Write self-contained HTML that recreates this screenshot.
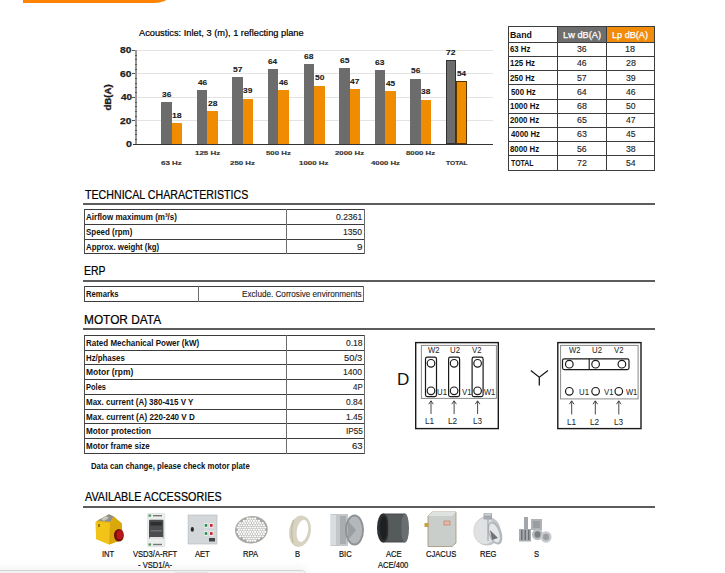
<!DOCTYPE html><html><head><meta charset="utf-8"><style>html,body{margin:0;padding:0;background:#fff;width:725px;height:573px;overflow:hidden;position:relative}span{position:absolute;white-space:nowrap;font-family:"Liberation Sans",sans-serif;transform-origin:0 0}</style></head><body>
<div style="position:absolute;left:23px;top:-20px;width:145px;height:23px;background:#ff8300;border-bottom-right-radius:14px 6px"></div>
<div style="position:absolute;left:136px;top:120.33px;width:357px;height:1px;background:#e3e3e3"></div>
<div style="position:absolute;left:132px;top:120.33px;width:4px;height:1px;background:#555"></div>
<div style="position:absolute;left:136px;top:96.85px;width:357px;height:1px;background:#e3e3e3"></div>
<div style="position:absolute;left:132px;top:96.85px;width:4px;height:1px;background:#555"></div>
<div style="position:absolute;left:136px;top:73.38px;width:357px;height:1px;background:#e3e3e3"></div>
<div style="position:absolute;left:132px;top:73.38px;width:4px;height:1px;background:#555"></div>
<div style="position:absolute;left:136px;top:49.90px;width:357px;height:1px;background:#e3e3e3"></div>
<div style="position:absolute;left:132px;top:49.90px;width:4px;height:1px;background:#555"></div>
<div style="position:absolute;left:135px;top:49.90px;width:1.5px;height:94.90px;background:#9a9a9a"></div>
<div style="position:absolute;left:135px;top:139.11px;width:1.5px;height:1px;background:#555"></div>
<div style="position:absolute;left:135px;top:134.41px;width:1.5px;height:1px;background:#555"></div>
<div style="position:absolute;left:135px;top:129.72px;width:1.5px;height:1px;background:#555"></div>
<div style="position:absolute;left:135px;top:125.02px;width:1.5px;height:1px;background:#555"></div>
<div style="position:absolute;left:135px;top:115.63px;width:1.5px;height:1px;background:#555"></div>
<div style="position:absolute;left:135px;top:110.94px;width:1.5px;height:1px;background:#555"></div>
<div style="position:absolute;left:135px;top:106.24px;width:1.5px;height:1px;background:#555"></div>
<div style="position:absolute;left:135px;top:101.55px;width:1.5px;height:1px;background:#555"></div>
<div style="position:absolute;left:135px;top:92.16px;width:1.5px;height:1px;background:#555"></div>
<div style="position:absolute;left:135px;top:87.46px;width:1.5px;height:1px;background:#555"></div>
<div style="position:absolute;left:135px;top:82.77px;width:1.5px;height:1px;background:#555"></div>
<div style="position:absolute;left:135px;top:78.07px;width:1.5px;height:1px;background:#555"></div>
<div style="position:absolute;left:135px;top:68.68px;width:1.5px;height:1px;background:#555"></div>
<div style="position:absolute;left:135px;top:63.99px;width:1.5px;height:1px;background:#555"></div>
<div style="position:absolute;left:135px;top:59.29px;width:1.5px;height:1px;background:#555"></div>
<div style="position:absolute;left:135px;top:54.59px;width:1.5px;height:1px;background:#555"></div>
<div style="position:absolute;left:133px;top:143.80px;width:360px;height:1.2px;background:#333"></div>
<span style="left:95.0px;top:92.9px;width:27px;text-align:center;font-size:8.4px;line-height:9px;font-weight:bold;color:#1a1a1a;-webkit-text-stroke:0.3px #1a1a1a;transform:rotate(-90deg) scaleX(1.15);transform-origin:13.5px 4.5px">dB(A)</span>
<div style="position:absolute;left:161.20px;top:102.05px;width:10.5px;height:42.25px;background:#6c6c6c;"></div>
<div style="position:absolute;left:171.70px;top:123.17px;width:10.5px;height:21.13px;background:#f08c00;"></div>
<div style="position:absolute;left:196.78px;top:90.31px;width:10.5px;height:53.99px;background:#6c6c6c;"></div>
<div style="position:absolute;left:207.28px;top:111.44px;width:10.5px;height:32.87px;background:#f08c00;"></div>
<div style="position:absolute;left:232.36px;top:77.40px;width:10.5px;height:66.90px;background:#6c6c6c;"></div>
<div style="position:absolute;left:242.86px;top:98.52px;width:10.5px;height:45.78px;background:#f08c00;"></div>
<div style="position:absolute;left:267.94px;top:69.18px;width:10.5px;height:75.12px;background:#6c6c6c;"></div>
<div style="position:absolute;left:278.44px;top:90.31px;width:10.5px;height:53.99px;background:#f08c00;"></div>
<div style="position:absolute;left:303.52px;top:64.49px;width:10.5px;height:79.81px;background:#6c6c6c;"></div>
<div style="position:absolute;left:314.02px;top:85.61px;width:10.5px;height:58.69px;background:#f08c00;"></div>
<div style="position:absolute;left:339.10px;top:68.01px;width:10.5px;height:76.29px;background:#6c6c6c;"></div>
<div style="position:absolute;left:349.60px;top:89.13px;width:10.5px;height:55.17px;background:#f08c00;"></div>
<div style="position:absolute;left:374.68px;top:70.35px;width:10.5px;height:73.95px;background:#6c6c6c;"></div>
<div style="position:absolute;left:385.18px;top:91.48px;width:10.5px;height:52.82px;background:#f08c00;"></div>
<div style="position:absolute;left:410.26px;top:78.57px;width:10.5px;height:65.73px;background:#6c6c6c;"></div>
<div style="position:absolute;left:420.76px;top:99.70px;width:10.5px;height:44.60px;background:#f08c00;"></div>
<div style="position:absolute;left:445.84px;top:59.79px;width:10.5px;height:84.51px;background:#6c6c6c;box-shadow:inset 0 0 0 1px #333;"></div>
<div style="position:absolute;left:456.34px;top:80.92px;width:10.5px;height:63.38px;background:#f08c00;box-shadow:inset 0 0 0 1px #5a3500;"></div>
<div style="position:absolute;left:557.50px;top:26.20px;width:49.00px;height:16.00px;background:#6e6e6e"></div>
<div style="position:absolute;left:606.50px;top:26.20px;width:48.30px;height:16.00px;background:#f08c0a"></div>
<div style="position:absolute;left:508.00px;top:25.70px;width:147.30px;height:1px;background:#3c3c3c"></div>
<div style="position:absolute;left:508.00px;top:41.70px;width:147.30px;height:1px;background:#3c3c3c"></div>
<div style="position:absolute;left:508.00px;top:55.90px;width:147.30px;height:1px;background:#3c3c3c"></div>
<div style="position:absolute;left:508.00px;top:70.10px;width:147.30px;height:1px;background:#3c3c3c"></div>
<div style="position:absolute;left:508.00px;top:84.30px;width:147.30px;height:1px;background:#3c3c3c"></div>
<div style="position:absolute;left:508.00px;top:98.50px;width:147.30px;height:1px;background:#3c3c3c"></div>
<div style="position:absolute;left:508.00px;top:112.70px;width:147.30px;height:1px;background:#3c3c3c"></div>
<div style="position:absolute;left:508.00px;top:126.90px;width:147.30px;height:1px;background:#3c3c3c"></div>
<div style="position:absolute;left:508.00px;top:141.10px;width:147.30px;height:1px;background:#3c3c3c"></div>
<div style="position:absolute;left:508.00px;top:155.30px;width:147.30px;height:1px;background:#3c3c3c"></div>
<div style="position:absolute;left:508.00px;top:169.50px;width:147.30px;height:1px;background:#3c3c3c"></div>
<div style="position:absolute;left:508.00px;top:25.70px;width:1px;height:144.80px;background:#3c3c3c"></div>
<div style="position:absolute;left:557.00px;top:25.70px;width:1px;height:144.80px;background:#3c3c3c"></div>
<div style="position:absolute;left:606.00px;top:25.70px;width:1px;height:144.80px;background:#3c3c3c"></div>
<div style="position:absolute;left:654.30px;top:25.70px;width:1px;height:144.80px;background:#3c3c3c"></div>
<div style="position:absolute;left:83px;top:203.00px;width:572px;height:2px;background:#5c5c5c"></div>
<div style="position:absolute;left:83px;top:280.00px;width:572px;height:2px;background:#5c5c5c"></div>
<div style="position:absolute;left:83px;top:328.00px;width:572px;height:2px;background:#5c5c5c"></div>
<div style="position:absolute;left:83px;top:506.00px;width:572px;height:2px;background:#5c5c5c"></div>
<div style="position:absolute;left:84.00px;top:208.80px;width:281.00px;height:1px;background:#3c3c3c"></div>
<div style="position:absolute;left:84.00px;top:223.80px;width:281.00px;height:1px;background:#3c3c3c"></div>
<div style="position:absolute;left:84.00px;top:238.90px;width:281.00px;height:1px;background:#3c3c3c"></div>
<div style="position:absolute;left:84.00px;top:253.30px;width:281.00px;height:1px;background:#3c3c3c"></div>
<div style="position:absolute;left:84.00px;top:208.80px;width:1px;height:45.50px;background:#4a4a4a"></div>
<div style="position:absolute;left:285.80px;top:208.80px;width:1px;height:45.50px;background:#6e6e6e"></div>
<div style="position:absolute;left:364.00px;top:208.80px;width:1px;height:45.50px;background:#6a6a6a"></div>
<div style="position:absolute;left:84.00px;top:285.90px;width:280.30px;height:1px;background:#3c3c3c"></div>
<div style="position:absolute;left:84.00px;top:300.70px;width:280.30px;height:1px;background:#3c3c3c"></div>
<div style="position:absolute;left:84.00px;top:285.90px;width:1px;height:15.80px;background:#4a4a4a"></div>
<div style="position:absolute;left:198.20px;top:285.90px;width:1px;height:15.80px;background:#6e6e6e"></div>
<div style="position:absolute;left:363.30px;top:285.90px;width:1px;height:15.80px;background:#6a6a6a"></div>
<div style="position:absolute;left:84.00px;top:334.80px;width:280.80px;height:1px;background:#3c3c3c"></div>
<div style="position:absolute;left:84.00px;top:349.58px;width:280.80px;height:1px;background:#3c3c3c"></div>
<div style="position:absolute;left:84.00px;top:364.36px;width:280.80px;height:1px;background:#3c3c3c"></div>
<div style="position:absolute;left:84.00px;top:379.14px;width:280.80px;height:1px;background:#3c3c3c"></div>
<div style="position:absolute;left:84.00px;top:393.92px;width:280.80px;height:1px;background:#3c3c3c"></div>
<div style="position:absolute;left:84.00px;top:408.70px;width:280.80px;height:1px;background:#3c3c3c"></div>
<div style="position:absolute;left:84.00px;top:423.48px;width:280.80px;height:1px;background:#3c3c3c"></div>
<div style="position:absolute;left:84.00px;top:438.26px;width:280.80px;height:1px;background:#3c3c3c"></div>
<div style="position:absolute;left:84.00px;top:453.04px;width:280.80px;height:1px;background:#3c3c3c"></div>
<div style="position:absolute;left:84.00px;top:334.80px;width:1px;height:119.24px;background:#4a4a4a"></div>
<div style="position:absolute;left:286.00px;top:334.80px;width:1px;height:119.24px;background:#6e6e6e"></div>
<div style="position:absolute;left:363.80px;top:334.80px;width:1px;height:119.24px;background:#6a6a6a"></div>
<svg style="position:absolute;left:0;top:0" width="725" height="573" viewBox="0 0 725 573"><rect x="415.7" y="342.6" width="82.6" height="86" fill="none" stroke="#1a1a1a" stroke-width="1.4"/><rect x="421.4" y="345.4" width="75" height="53" fill="none" stroke="#8a8a8a" stroke-width="1"/><rect x="425.5" y="357.2" width="11" height="39.4" rx="1.8" fill="none" stroke="#1a1a1a" stroke-width="1.2"/><circle cx="431" cy="363.3" r="3.8" fill="none" stroke="#1a1a1a" stroke-width="1.2"/><circle cx="431" cy="390.8" r="3.8" fill="none" stroke="#1a1a1a" stroke-width="1.2"/><line x1="431" y1="401" x2="431" y2="414" stroke="#333" stroke-width="0.9"/><path d="M428.7 404.2 L431 400.8 L433.3 404.2" fill="none" stroke="#333" stroke-width="0.9"/><rect x="448.6" y="357.2" width="11" height="39.4" rx="1.8" fill="none" stroke="#1a1a1a" stroke-width="1.2"/><circle cx="454.1" cy="363.3" r="3.8" fill="none" stroke="#1a1a1a" stroke-width="1.2"/><circle cx="454.1" cy="390.8" r="3.8" fill="none" stroke="#1a1a1a" stroke-width="1.2"/><line x1="454.1" y1="401" x2="454.1" y2="414" stroke="#333" stroke-width="0.9"/><path d="M451.8 404.2 L454.1 400.8 L456.40000000000003 404.2" fill="none" stroke="#333" stroke-width="0.9"/><rect x="472.1" y="357.2" width="11" height="39.4" rx="1.8" fill="none" stroke="#1a1a1a" stroke-width="1.2"/><circle cx="477.6" cy="363.3" r="3.8" fill="none" stroke="#1a1a1a" stroke-width="1.2"/><circle cx="477.6" cy="390.8" r="3.8" fill="none" stroke="#1a1a1a" stroke-width="1.2"/><line x1="477.6" y1="401" x2="477.6" y2="414" stroke="#333" stroke-width="0.9"/><path d="M475.3 404.2 L477.6 400.8 L479.90000000000003 404.2" fill="none" stroke="#333" stroke-width="0.9"/><rect x="557.8" y="342.6" width="83.2" height="86" fill="none" stroke="#1a1a1a" stroke-width="1.4"/><rect x="560.6" y="345.4" width="77.5" height="53.5" fill="none" stroke="#8a8a8a" stroke-width="1"/><rect x="562.5" y="358.8" width="66.5" height="10.8" rx="1.8" fill="none" stroke="#1a1a1a" stroke-width="1.2"/><line x1="589.2" y1="358.8" x2="589.2" y2="369.6" stroke="#1a1a1a" stroke-width="1.1"/><circle cx="569.3" cy="364.2" r="3.8" fill="none" stroke="#1a1a1a" stroke-width="1.2"/><circle cx="595.6" cy="364.2" r="3.8" fill="none" stroke="#1a1a1a" stroke-width="1.2"/><circle cx="621.9" cy="364.2" r="3.8" fill="none" stroke="#1a1a1a" stroke-width="1.2"/><circle cx="569.3" cy="391.3" r="3.8" fill="none" stroke="#1a1a1a" stroke-width="1.2"/><circle cx="595.6" cy="391.3" r="3.8" fill="none" stroke="#1a1a1a" stroke-width="1.2"/><circle cx="618.8" cy="391.3" r="3.8" fill="none" stroke="#1a1a1a" stroke-width="1.2"/><line x1="571.7" y1="401" x2="571.7" y2="414.5" stroke="#333" stroke-width="0.9"/><path d="M569.4000000000001 404.2 L571.7 400.8 L574.0 404.2" fill="none" stroke="#333" stroke-width="0.9"/><line x1="595.3" y1="401" x2="595.3" y2="414.5" stroke="#333" stroke-width="0.9"/><path d="M593.0 404.2 L595.3 400.8 L597.5999999999999 404.2" fill="none" stroke="#333" stroke-width="0.9"/><line x1="618.8" y1="401" x2="618.8" y2="414.5" stroke="#333" stroke-width="0.9"/><path d="M616.5 404.2 L618.8 400.8 L621.0999999999999 404.2" fill="none" stroke="#333" stroke-width="0.9"/><path d="M530.8 370.6 L539.3 377.3 L548 370.6 M539.3 377.3 L539.3 385.5" fill="none" stroke="#1a1a1a" stroke-width="1.3"/><g><polygon points="95.7,522 97.6,520.5 109,514.3 113.7,516.5 121.8,523.4 122.6,539.6 109.3,544.5 96.1,538.9" fill="#e6b40f"/><polygon points="97.6,520.5 109,514.3 113.7,516.5 110,522" fill="#8f8f8c"/><polygon points="101,519 106,516 109,518 104,521" fill="#c9c9c4"/><polygon points="95.7,522 110,522.7 109.3,544.5 96.1,538.9" fill="#f2c418"/><polygon points="110,522.7 113.7,516.5 121.8,523.4 122.6,539.6 109.3,544.5" fill="#d9a80c"/><rect x="98" y="524" width="2" height="3" fill="#9a7a08"/><ellipse cx="118.9" cy="535.2" rx="4.9" ry="6.3" fill="#7a0d0d"/><ellipse cx="119.8" cy="534.8" rx="3.2" ry="4.6" fill="#b81818"/></g><rect x="147.6" y="513.4" width="17.2" height="33.4" rx="1" fill="#eceeee" stroke="#d4d7d7" stroke-width="0.6"/><rect x="149" y="519.8" width="14.4" height="19.2" rx="1" fill="#4a4c4e"/><rect x="150.5" y="522" width="11.4" height="3.5" fill="#2c2e30"/><rect x="150.5" y="530" width="11.4" height="1.5" fill="#6f7275"/><rect x="149.5" y="537" width="13.4" height="2" fill="#e0e2e2"/><rect x="148.5" y="514.5" width="2.6" height="2.2" fill="#4f9a5a"/><rect x="148.5" y="543.4" width="2.6" height="2.2" fill="#4f9a5a"/><rect x="153" y="515" width="9" height="1.4" fill="#777"/><rect x="153" y="543.8" width="9" height="1.4" fill="#777"/><rect x="188.1" y="515" width="28.9" height="29" fill="#d4d7da" stroke="#b0b4b8" stroke-width="0.6"/><ellipse cx="192.3" cy="529.4" rx="1.6" ry="2.4" fill="#2a2a2a"/><rect x="204" y="523.2" width="4" height="4.4" fill="#f2f2f2"/><rect x="204.7" y="524" width="2.6" height="2.8" fill="#2f8f5a"/><rect x="209.3" y="523.2" width="4" height="4.4" fill="#f2f2f2"/><rect x="210" y="524" width="2.6" height="2.8" fill="#c02828"/><rect x="204" y="531.3" width="4" height="4.4" fill="#f2f2f2"/><rect x="204.7" y="532.1" width="2.6" height="2.8" fill="#2f8f5a"/><rect x="209.3" y="531.3" width="4" height="4.4" fill="#f2f2f2"/><rect x="210" y="532.1" width="2.6" height="2.8" fill="#c02828"/><rect x="209" y="538" width="6" height="3.5" fill="#444"/><ellipse cx="251.4" cy="529.7" rx="16.4" ry="13.7" fill="#a9a9a5" transform="rotate(-8 251.4 529.7)"/><circle cx="247.65" cy="518.70" r="1.1" fill="#fff"/><circle cx="250.15" cy="518.70" r="1.1" fill="#fff"/><circle cx="252.65" cy="518.70" r="1.1" fill="#fff"/><circle cx="255.15" cy="518.70" r="1.1" fill="#fff"/><circle cx="243.90" cy="520.90" r="1.1" fill="#fff"/><circle cx="246.40" cy="520.90" r="1.1" fill="#fff"/><circle cx="248.90" cy="520.90" r="1.1" fill="#fff"/><circle cx="251.40" cy="520.90" r="1.1" fill="#fff"/><circle cx="253.90" cy="520.90" r="1.1" fill="#fff"/><circle cx="256.40" cy="520.90" r="1.1" fill="#fff"/><circle cx="258.90" cy="520.90" r="1.1" fill="#fff"/><circle cx="240.15" cy="523.10" r="1.1" fill="#fff"/><circle cx="242.65" cy="523.10" r="1.1" fill="#fff"/><circle cx="245.15" cy="523.10" r="1.1" fill="#fff"/><circle cx="247.65" cy="523.10" r="1.1" fill="#fff"/><circle cx="250.15" cy="523.10" r="1.1" fill="#fff"/><circle cx="252.65" cy="523.10" r="1.1" fill="#fff"/><circle cx="255.15" cy="523.10" r="1.1" fill="#fff"/><circle cx="257.65" cy="523.10" r="1.1" fill="#fff"/><circle cx="260.15" cy="523.10" r="1.1" fill="#fff"/><circle cx="262.65" cy="523.10" r="1.1" fill="#fff"/><circle cx="238.90" cy="525.30" r="1.1" fill="#fff"/><circle cx="241.40" cy="525.30" r="1.1" fill="#fff"/><circle cx="243.90" cy="525.30" r="1.1" fill="#fff"/><circle cx="246.40" cy="525.30" r="1.1" fill="#fff"/><circle cx="248.90" cy="525.30" r="1.1" fill="#fff"/><circle cx="251.40" cy="525.30" r="1.1" fill="#fff"/><circle cx="253.90" cy="525.30" r="1.1" fill="#fff"/><circle cx="256.40" cy="525.30" r="1.1" fill="#fff"/><circle cx="258.90" cy="525.30" r="1.1" fill="#fff"/><circle cx="261.40" cy="525.30" r="1.1" fill="#fff"/><circle cx="263.90" cy="525.30" r="1.1" fill="#fff"/><circle cx="237.65" cy="527.50" r="1.1" fill="#fff"/><circle cx="240.15" cy="527.50" r="1.1" fill="#fff"/><circle cx="242.65" cy="527.50" r="1.1" fill="#fff"/><circle cx="245.15" cy="527.50" r="1.1" fill="#fff"/><circle cx="247.65" cy="527.50" r="1.1" fill="#fff"/><circle cx="250.15" cy="527.50" r="1.1" fill="#fff"/><circle cx="252.65" cy="527.50" r="1.1" fill="#fff"/><circle cx="255.15" cy="527.50" r="1.1" fill="#fff"/><circle cx="257.65" cy="527.50" r="1.1" fill="#fff"/><circle cx="260.15" cy="527.50" r="1.1" fill="#fff"/><circle cx="262.65" cy="527.50" r="1.1" fill="#fff"/><circle cx="265.15" cy="527.50" r="1.1" fill="#fff"/><circle cx="238.90" cy="529.70" r="1.1" fill="#fff"/><circle cx="241.40" cy="529.70" r="1.1" fill="#fff"/><circle cx="243.90" cy="529.70" r="1.1" fill="#fff"/><circle cx="246.40" cy="529.70" r="1.1" fill="#fff"/><circle cx="248.90" cy="529.70" r="1.1" fill="#fff"/><circle cx="251.40" cy="529.70" r="1.1" fill="#fff"/><circle cx="253.90" cy="529.70" r="1.1" fill="#fff"/><circle cx="256.40" cy="529.70" r="1.1" fill="#fff"/><circle cx="258.90" cy="529.70" r="1.1" fill="#fff"/><circle cx="261.40" cy="529.70" r="1.1" fill="#fff"/><circle cx="263.90" cy="529.70" r="1.1" fill="#fff"/><circle cx="237.65" cy="531.90" r="1.1" fill="#fff"/><circle cx="240.15" cy="531.90" r="1.1" fill="#fff"/><circle cx="242.65" cy="531.90" r="1.1" fill="#fff"/><circle cx="245.15" cy="531.90" r="1.1" fill="#fff"/><circle cx="247.65" cy="531.90" r="1.1" fill="#fff"/><circle cx="250.15" cy="531.90" r="1.1" fill="#fff"/><circle cx="252.65" cy="531.90" r="1.1" fill="#fff"/><circle cx="255.15" cy="531.90" r="1.1" fill="#fff"/><circle cx="257.65" cy="531.90" r="1.1" fill="#fff"/><circle cx="260.15" cy="531.90" r="1.1" fill="#fff"/><circle cx="262.65" cy="531.90" r="1.1" fill="#fff"/><circle cx="265.15" cy="531.90" r="1.1" fill="#fff"/><circle cx="238.90" cy="534.10" r="1.1" fill="#fff"/><circle cx="241.40" cy="534.10" r="1.1" fill="#fff"/><circle cx="243.90" cy="534.10" r="1.1" fill="#fff"/><circle cx="246.40" cy="534.10" r="1.1" fill="#fff"/><circle cx="248.90" cy="534.10" r="1.1" fill="#fff"/><circle cx="251.40" cy="534.10" r="1.1" fill="#fff"/><circle cx="253.90" cy="534.10" r="1.1" fill="#fff"/><circle cx="256.40" cy="534.10" r="1.1" fill="#fff"/><circle cx="258.90" cy="534.10" r="1.1" fill="#fff"/><circle cx="261.40" cy="534.10" r="1.1" fill="#fff"/><circle cx="263.90" cy="534.10" r="1.1" fill="#fff"/><circle cx="240.15" cy="536.30" r="1.1" fill="#fff"/><circle cx="242.65" cy="536.30" r="1.1" fill="#fff"/><circle cx="245.15" cy="536.30" r="1.1" fill="#fff"/><circle cx="247.65" cy="536.30" r="1.1" fill="#fff"/><circle cx="250.15" cy="536.30" r="1.1" fill="#fff"/><circle cx="252.65" cy="536.30" r="1.1" fill="#fff"/><circle cx="255.15" cy="536.30" r="1.1" fill="#fff"/><circle cx="257.65" cy="536.30" r="1.1" fill="#fff"/><circle cx="260.15" cy="536.30" r="1.1" fill="#fff"/><circle cx="262.65" cy="536.30" r="1.1" fill="#fff"/><circle cx="243.90" cy="538.50" r="1.1" fill="#fff"/><circle cx="246.40" cy="538.50" r="1.1" fill="#fff"/><circle cx="248.90" cy="538.50" r="1.1" fill="#fff"/><circle cx="251.40" cy="538.50" r="1.1" fill="#fff"/><circle cx="253.90" cy="538.50" r="1.1" fill="#fff"/><circle cx="256.40" cy="538.50" r="1.1" fill="#fff"/><circle cx="258.90" cy="538.50" r="1.1" fill="#fff"/><circle cx="247.65" cy="540.70" r="1.1" fill="#fff"/><circle cx="250.15" cy="540.70" r="1.1" fill="#fff"/><circle cx="252.65" cy="540.70" r="1.1" fill="#fff"/><circle cx="255.15" cy="540.70" r="1.1" fill="#fff"/><ellipse cx="300" cy="531.2" rx="10.8" ry="15.8" fill="#d7d3c0" transform="rotate(10 300 531.2)"/><ellipse cx="302.4" cy="530.8" rx="5.6" ry="11.2" fill="#fff" transform="rotate(10 302.4 530.8)"/><path d="M293.5 520 Q290 531 293 543" stroke="#bdb9a4" stroke-width="1.2" fill="none"/><polygon points="330.5,514 348,514 348,546 330.5,546" fill="#c3c7c9"/><rect x="331" y="515" width="5" height="30" fill="#dadddf"/><rect x="340" y="516" width="6" height="28" fill="#a9adb0"/><ellipse cx="354.5" cy="530" rx="9.5" ry="15.6" fill="#8e9295"/><ellipse cx="354.5" cy="530" rx="7.6" ry="13.6" fill="#b4b8bb"/><path d="M348 521 L356 530 L348 540 Z" fill="#9a9ea1"/><rect x="383" y="513.5" width="22" height="29" fill="#4c5052"/><ellipse cx="383" cy="528" rx="6" ry="14.5" fill="#2c2f31"/><ellipse cx="405" cy="528" rx="4" ry="14.5" fill="#6a6e70"/><ellipse cx="383.5" cy="528" rx="3.5" ry="11.5" fill="#1d1f20"/><rect x="388" y="515" width="14" height="26" fill="#5c6062" opacity="0.6"/><polygon points="428,516 432,512 456,512 456,543 452,546.5 428,546.5" fill="#c9ceca" stroke="#a19078" stroke-width="0.8"/><polygon points="428,516 432,512 456,512 452,516" fill="#dfe2df"/><rect x="444" y="521" width="6" height="4" fill="#e6b9a4" stroke="#b06a50" stroke-width="0.5"/><rect x="424.5" y="523" width="4" height="4" fill="#c8a040"/><ellipse cx="487" cy="531" rx="13.5" ry="14.5" fill="#c3c6c9"/><ellipse cx="485" cy="531" rx="11" ry="13" fill="#dfe1e3"/><ellipse cx="495" cy="533" rx="6.5" ry="12" fill="#b4b8bb" transform="rotate(-20 495 533)"/><ellipse cx="494.5" cy="533" rx="4.5" ry="10" fill="#e4e6e8" transform="rotate(-20 494.5 533)"/><path d="M488 519 L488 541" stroke="#9da1a5" stroke-width="1"/><path d="M490 530 L498 538 L492 540 Z" fill="#6f7377"/><rect x="483.5" y="513" width="8.5" height="6.5" rx="1" fill="#a5a9ad"/><rect x="484.5" y="513.5" width="6.5" height="2" fill="#d0d3d5"/><rect x="524" y="517" width="4" height="13" fill="#a3a6aa"/><rect x="531" y="519" width="11" height="11" fill="#b0b3b6"/><rect x="533" y="521" width="7" height="7" fill="#9a9da1"/><rect x="519" y="529" width="12" height="12.5" fill="#a8abaf"/><rect x="521" y="530" width="1.5" height="10" fill="#6d7074"/><rect x="524.5" y="530" width="1.5" height="10" fill="#6d7074"/><rect x="528" y="530" width="1.5" height="10" fill="#6d7074"/><ellipse cx="537.5" cy="534.5" rx="5.5" ry="5.8" fill="#b9bcbf"/><ellipse cx="537.5" cy="534.5" rx="3" ry="3.2" fill="#7a7d81"/><ellipse cx="546" cy="537" rx="5.5" ry="5.8" fill="#c5c8ca"/><ellipse cx="546" cy="537" rx="3" ry="3.2" fill="#9a9da1"/></svg>
<div style="position:absolute;left:-20px;top:570px;width:327px;height:20px;background:#f2f2f2;border-top:1px solid #d4d4d4;border-top-right-radius:6px;box-shadow:0 -3px 9px rgba(0,0,0,0.05)"></div>
<div style="position:absolute;left:175px;top:571.5px;width:33px;height:3px;background:#dedede"></div>
<span style="left:125.76px;top:139.89px;font-size:8.72px;line-height:8.72px;font-weight:bold;color:#222;transform:scaleX(1.2310);-webkit-text-stroke:0.25px #222">0</span>
<span style="left:120.38px;top:116.89px;font-size:8.72px;line-height:8.72px;font-weight:bold;color:#222;transform:scaleX(1.1681);-webkit-text-stroke:0.25px #222">20</span>
<span style="left:120.70px;top:92.89px;font-size:8.72px;line-height:8.72px;font-weight:bold;color:#222;transform:scaleX(1.1340);-webkit-text-stroke:0.25px #222">40</span>
<span style="left:120.38px;top:69.89px;font-size:8.72px;line-height:8.72px;font-weight:bold;color:#222;transform:scaleX(1.1681);-webkit-text-stroke:0.25px #222">60</span>
<span style="left:120.38px;top:45.89px;font-size:8.72px;line-height:8.72px;font-weight:bold;color:#222;transform:scaleX(1.1681);-webkit-text-stroke:0.25px #222">80</span>
<span style="left:161.82px;top:90.90px;font-size:7.70px;line-height:7.70px;font-weight:bold;color:#1a1a1a;transform:scaleX(1.0900);-webkit-text-stroke:0.1px #1a1a1a">36</span>
<span style="left:171.90px;top:111.90px;font-size:7.70px;line-height:7.70px;font-weight:bold;color:#1a1a1a;transform:scaleX(1.1399);-webkit-text-stroke:0.1px #1a1a1a">18</span>
<span style="left:161.30px;top:159.62px;font-size:6.25px;line-height:6.25px;font-weight:bold;color:#333;transform:scaleX(1.2738);-webkit-text-stroke:0.15px #333">63 Hz</span>
<span style="left:197.53px;top:78.90px;font-size:7.70px;line-height:7.70px;font-weight:bold;color:#1a1a1a;transform:scaleX(1.0744);-webkit-text-stroke:0.1px #1a1a1a">46</span>
<span style="left:207.76px;top:99.90px;font-size:7.70px;line-height:7.70px;font-weight:bold;color:#1a1a1a;transform:scaleX(1.1062);-webkit-text-stroke:0.1px #1a1a1a">28</span>
<span style="left:194.53px;top:149.62px;font-size:6.25px;line-height:6.25px;font-weight:bold;color:#333;transform:scaleX(1.2749);-webkit-text-stroke:0.15px #333">125 Hz</span>
<span style="left:232.98px;top:65.90px;font-size:7.70px;line-height:7.70px;font-weight:bold;color:#1a1a1a;transform:scaleX(1.1062);-webkit-text-stroke:0.1px #1a1a1a">57</span>
<span style="left:243.48px;top:86.90px;font-size:7.70px;line-height:7.70px;font-weight:bold;color:#1a1a1a;transform:scaleX(1.0900);-webkit-text-stroke:0.1px #1a1a1a">39</span>
<span style="left:230.36px;top:159.62px;font-size:6.25px;line-height:6.25px;font-weight:bold;color:#333;transform:scaleX(1.2621);-webkit-text-stroke:0.15px #333">250 Hz</span>
<span style="left:268.43px;top:57.90px;font-size:7.70px;line-height:7.70px;font-weight:bold;color:#1a1a1a;transform:scaleX(1.0744);-webkit-text-stroke:0.1px #1a1a1a">64</span>
<span style="left:279.19px;top:78.90px;font-size:7.70px;line-height:7.70px;font-weight:bold;color:#1a1a1a;transform:scaleX(1.0744);-webkit-text-stroke:0.1px #1a1a1a">46</span>
<span style="left:266.07px;top:149.62px;font-size:6.25px;line-height:6.25px;font-weight:bold;color:#333;transform:scaleX(1.2558);-webkit-text-stroke:0.15px #333">500 Hz</span>
<span style="left:304.00px;top:52.90px;font-size:7.70px;line-height:7.70px;font-weight:bold;color:#1a1a1a;transform:scaleX(1.1062);-webkit-text-stroke:0.1px #1a1a1a">68</span>
<span style="left:314.64px;top:73.90px;font-size:7.70px;line-height:7.70px;font-weight:bold;color:#1a1a1a;transform:scaleX(1.1062);-webkit-text-stroke:0.1px #1a1a1a">50</span>
<span style="left:299.18px;top:159.62px;font-size:6.25px;line-height:6.25px;font-weight:bold;color:#333;transform:scaleX(1.2647);-webkit-text-stroke:0.15px #333">1000 Hz</span>
<span style="left:339.58px;top:56.90px;font-size:7.70px;line-height:7.70px;font-weight:bold;color:#1a1a1a;transform:scaleX(1.1062);-webkit-text-stroke:0.1px #1a1a1a">65</span>
<span style="left:350.35px;top:77.90px;font-size:7.70px;line-height:7.70px;font-weight:bold;color:#1a1a1a;transform:scaleX(1.0900);-webkit-text-stroke:0.1px #1a1a1a">47</span>
<span style="left:335.01px;top:149.62px;font-size:6.25px;line-height:6.25px;font-weight:bold;color:#333;transform:scaleX(1.2539);-webkit-text-stroke:0.15px #333">2000 Hz</span>
<span style="left:375.16px;top:58.90px;font-size:7.70px;line-height:7.70px;font-weight:bold;color:#1a1a1a;transform:scaleX(1.1062);-webkit-text-stroke:0.1px #1a1a1a">63</span>
<span style="left:385.93px;top:79.90px;font-size:7.70px;line-height:7.70px;font-weight:bold;color:#1a1a1a;transform:scaleX(1.0744);-webkit-text-stroke:0.1px #1a1a1a">45</span>
<span style="left:370.83px;top:159.62px;font-size:6.25px;line-height:6.25px;font-weight:bold;color:#333;transform:scaleX(1.2433);-webkit-text-stroke:0.15px #333">4000 Hz</span>
<span style="left:410.88px;top:66.90px;font-size:7.70px;line-height:7.70px;font-weight:bold;color:#1a1a1a;transform:scaleX(1.0900);-webkit-text-stroke:0.1px #1a1a1a">56</span>
<span style="left:421.38px;top:87.90px;font-size:7.70px;line-height:7.70px;font-weight:bold;color:#1a1a1a;transform:scaleX(1.0900);-webkit-text-stroke:0.1px #1a1a1a">38</span>
<span style="left:406.17px;top:149.62px;font-size:6.25px;line-height:6.25px;font-weight:bold;color:#333;transform:scaleX(1.2539);-webkit-text-stroke:0.15px #333">8000 Hz</span>
<span style="left:446.32px;top:48.90px;font-size:7.70px;line-height:7.70px;font-weight:bold;color:#1a1a1a;transform:scaleX(1.1062);-webkit-text-stroke:0.1px #1a1a1a">72</span>
<span style="left:456.96px;top:69.90px;font-size:7.70px;line-height:7.70px;font-weight:bold;color:#1a1a1a;transform:scaleX(1.0592);-webkit-text-stroke:0.1px #1a1a1a">54</span>
<span style="left:445.59px;top:159.62px;font-size:6.25px;line-height:6.25px;font-weight:bold;color:#333;transform:scaleX(1.0673);-webkit-text-stroke:0.15px #333">TOTAL</span>
<span style="left:139.00px;top:28.74px;font-size:9.01px;line-height:9.01px;font-weight:normal;color:#000;transform:scaleX(1.0287);-webkit-text-stroke:0.2px #000">Acoustics: Inlet, 3 (m), 1 reflecting plane</span>
<span style="left:510.15px;top:30.89px;font-size:8.72px;line-height:8.72px;font-weight:bold;color:#111;transform:scaleX(1.0048);">Band</span>
<span style="left:562.68px;top:30.89px;font-size:8.72px;line-height:8.72px;font-weight:normal;color:#fff;transform:scaleX(1.0596);-webkit-text-stroke:0.25px #fff">Lw dB(A)</span>
<span style="left:612.19px;top:30.89px;font-size:8.72px;line-height:8.72px;font-weight:normal;color:#fff;transform:scaleX(1.0456);-webkit-text-stroke:0.25px #fff">Lp dB(A)</span>
<span style="left:510.46px;top:44.89px;font-size:8.72px;line-height:8.72px;font-weight:bold;color:#111;transform:scaleX(0.8949);">63 Hz</span>
<span style="left:577.18px;top:45.68px;font-size:8.14px;line-height:8.14px;font-weight:normal;color:#222;transform:scaleX(1.0744);-webkit-text-stroke:0.12px #222">36</span>
<span style="left:625.49px;top:45.68px;font-size:8.14px;line-height:8.14px;font-weight:normal;color:#222;transform:scaleX(1.1077);-webkit-text-stroke:0.12px #222">18</span>
<span style="left:510.21px;top:58.89px;font-size:8.72px;line-height:8.72px;font-weight:bold;color:#111;transform:scaleX(0.9062);">125 Hz</span>
<span style="left:577.32px;top:59.68px;font-size:8.14px;line-height:8.14px;font-weight:normal;color:#222;transform:scaleX(1.0585);-webkit-text-stroke:0.12px #222">46</span>
<span style="left:625.63px;top:59.68px;font-size:8.14px;line-height:8.14px;font-weight:normal;color:#222;transform:scaleX(1.0908);-webkit-text-stroke:0.12px #222">28</span>
<span style="left:510.46px;top:73.89px;font-size:8.72px;line-height:8.72px;font-weight:bold;color:#111;transform:scaleX(0.8971);">250 Hz</span>
<span style="left:577.18px;top:74.68px;font-size:8.14px;line-height:8.14px;font-weight:normal;color:#222;transform:scaleX(1.0744);-webkit-text-stroke:0.12px #222">57</span>
<span style="left:625.78px;top:74.68px;font-size:8.14px;line-height:8.14px;font-weight:normal;color:#222;transform:scaleX(1.0744);-webkit-text-stroke:0.12px #222">39</span>
<span style="left:510.58px;top:87.89px;font-size:8.72px;line-height:8.72px;font-weight:bold;color:#111;transform:scaleX(0.8926);">500 Hz</span>
<span style="left:577.04px;top:88.68px;font-size:8.14px;line-height:8.14px;font-weight:normal;color:#222;transform:scaleX(1.0744);-webkit-text-stroke:0.12px #222">64</span>
<span style="left:625.92px;top:88.68px;font-size:8.14px;line-height:8.14px;font-weight:normal;color:#222;transform:scaleX(1.0585);-webkit-text-stroke:0.12px #222">46</span>
<span style="left:510.21px;top:101.89px;font-size:8.72px;line-height:8.72px;font-weight:bold;color:#111;transform:scaleX(0.9064);">1000 Hz</span>
<span style="left:577.03px;top:102.68px;font-size:8.14px;line-height:8.14px;font-weight:normal;color:#222;transform:scaleX(1.0908);-webkit-text-stroke:0.12px #222">68</span>
<span style="left:625.78px;top:102.68px;font-size:8.14px;line-height:8.14px;font-weight:normal;color:#222;transform:scaleX(1.0585);-webkit-text-stroke:0.12px #222">50</span>
<span style="left:510.46px;top:115.89px;font-size:8.72px;line-height:8.72px;font-weight:bold;color:#111;transform:scaleX(0.8986);">2000 Hz</span>
<span style="left:577.03px;top:116.68px;font-size:8.14px;line-height:8.14px;font-weight:normal;color:#222;transform:scaleX(1.0908);-webkit-text-stroke:0.12px #222">65</span>
<span style="left:625.92px;top:116.68px;font-size:8.14px;line-height:8.14px;font-weight:normal;color:#222;transform:scaleX(1.0585);-webkit-text-stroke:0.12px #222">47</span>
<span style="left:510.70px;top:129.89px;font-size:8.72px;line-height:8.72px;font-weight:bold;color:#111;transform:scaleX(0.8910);">4000 Hz</span>
<span style="left:577.03px;top:130.68px;font-size:8.14px;line-height:8.14px;font-weight:normal;color:#222;transform:scaleX(1.0908);-webkit-text-stroke:0.12px #222">63</span>
<span style="left:625.92px;top:130.68px;font-size:8.14px;line-height:8.14px;font-weight:normal;color:#222;transform:scaleX(1.0585);-webkit-text-stroke:0.12px #222">45</span>
<span style="left:510.46px;top:144.89px;font-size:8.72px;line-height:8.72px;font-weight:bold;color:#111;transform:scaleX(0.8986);">8000 Hz</span>
<span style="left:577.18px;top:145.68px;font-size:8.14px;line-height:8.14px;font-weight:normal;color:#222;transform:scaleX(1.0744);-webkit-text-stroke:0.12px #222">56</span>
<span style="left:625.78px;top:145.68px;font-size:8.14px;line-height:8.14px;font-weight:normal;color:#222;transform:scaleX(1.0744);-webkit-text-stroke:0.12px #222">38</span>
<span style="left:510.70px;top:158.89px;font-size:8.72px;line-height:8.72px;font-weight:bold;color:#111;transform:scaleX(0.8004);">TOTAL</span>
<span style="left:577.03px;top:159.68px;font-size:8.14px;line-height:8.14px;font-weight:normal;color:#222;transform:scaleX(1.0908);-webkit-text-stroke:0.12px #222">72</span>
<span style="left:625.78px;top:159.68px;font-size:8.14px;line-height:8.14px;font-weight:normal;color:#222;transform:scaleX(1.0585);-webkit-text-stroke:0.12px #222">54</span>
<span style="left:84.63px;top:189.35px;font-size:12.79px;line-height:12.79px;font-weight:normal;color:#000;transform:scaleX(0.8321);-webkit-text-stroke:0.22px #000">TECHNICAL CHARACTERISTICS</span>
<span style="left:83.98px;top:265.35px;font-size:12.79px;line-height:12.79px;font-weight:normal;color:#000;transform:scaleX(0.8197);-webkit-text-stroke:0.22px #000">ERP</span>
<span style="left:83.87px;top:314.35px;font-size:12.79px;line-height:12.79px;font-weight:normal;color:#000;transform:scaleX(0.9282);-webkit-text-stroke:0.22px #000">MOTOR DATA</span>
<span style="left:84.80px;top:491.35px;font-size:12.79px;line-height:12.79px;font-weight:normal;color:#000;transform:scaleX(0.8419);-webkit-text-stroke:0.22px #000">AVAILABLE ACCESSORIES</span>
<span style="left:86.37px;top:212.89px;font-size:8.72px;line-height:8.72px;font-weight:bold;color:#111;transform:scaleX(0.9207);">Airflow maximum (m³/s)</span>
<span style="left:336.13px;top:213.68px;font-size:8.14px;line-height:8.14px;font-weight:normal;color:#222;transform:scaleX(1.0612);-webkit-text-stroke:0.12px #222">0.2361</span>
<span style="left:86.38px;top:227.89px;font-size:8.72px;line-height:8.72px;font-weight:bold;color:#111;transform:scaleX(0.9102);">Speed (rpm)</span>
<span style="left:343.36px;top:228.68px;font-size:8.14px;line-height:8.14px;font-weight:normal;color:#222;transform:scaleX(1.0520);-webkit-text-stroke:0.12px #222">1350</span>
<span style="left:86.38px;top:242.89px;font-size:8.72px;line-height:8.72px;font-weight:bold;color:#111;transform:scaleX(0.8994);">Approx. weight (kg)</span>
<span style="left:357.14px;top:243.68px;font-size:8.14px;line-height:8.14px;font-weight:normal;color:#222;transform:scaleX(1.2056);-webkit-text-stroke:0.12px #222">9</span>
<span style="left:86.02px;top:290.03px;font-size:8.43px;line-height:8.43px;font-weight:bold;color:#111;transform:scaleX(0.9122);">Remarks</span>
<span style="left:241.96px;top:289.89px;font-size:8.72px;line-height:8.72px;font-weight:normal;color:#222;transform:scaleX(0.9338);-webkit-text-stroke:0.12px #222">Exclude. Corrosive environments</span>
<span style="left:86.30px;top:338.89px;font-size:8.72px;line-height:8.72px;font-weight:bold;color:#111;transform:scaleX(0.9159);">Rated Mechanical Power (kW)</span>
<span style="left:346.03px;top:339.68px;font-size:8.14px;line-height:8.14px;font-weight:normal;color:#222;transform:scaleX(1.0486);-webkit-text-stroke:0.12px #222">0.18</span>
<span style="left:86.31px;top:353.89px;font-size:8.72px;line-height:8.72px;font-weight:bold;color:#111;transform:scaleX(0.8997);">Hz/phases</span>
<span style="left:344.41px;top:354.68px;font-size:8.14px;line-height:8.14px;font-weight:normal;color:#222;transform:scaleX(1.1535);-webkit-text-stroke:0.12px #222">50/3</span>
<span style="left:86.27px;top:367.89px;font-size:8.72px;line-height:8.72px;font-weight:bold;color:#111;transform:scaleX(0.9675);">Motor (rpm)</span>
<span style="left:343.46px;top:368.68px;font-size:8.14px;line-height:8.14px;font-weight:normal;color:#222;transform:scaleX(1.0520);-webkit-text-stroke:0.12px #222">1400</span>
<span style="left:86.33px;top:382.89px;font-size:8.72px;line-height:8.72px;font-weight:bold;color:#111;transform:scaleX(0.8583);">Poles</span>
<span style="left:352.98px;top:383.68px;font-size:8.14px;line-height:8.14px;font-weight:normal;color:#222;transform:scaleX(0.9697);-webkit-text-stroke:0.12px #222">4P</span>
<span style="left:86.30px;top:397.89px;font-size:8.72px;line-height:8.72px;font-weight:bold;color:#111;transform:scaleX(0.9172);">Max. current (A) 380-415 V Y</span>
<span style="left:346.04px;top:398.68px;font-size:8.14px;line-height:8.14px;font-weight:normal;color:#222;transform:scaleX(1.0400);-webkit-text-stroke:0.12px #222">0.84</span>
<span style="left:86.30px;top:412.89px;font-size:8.72px;line-height:8.72px;font-weight:bold;color:#111;transform:scaleX(0.9236);">Max. current (A) 220-240 V D</span>
<span style="left:346.07px;top:413.68px;font-size:8.14px;line-height:8.14px;font-weight:normal;color:#222;transform:scaleX(1.0464);-webkit-text-stroke:0.12px #222">1.45</span>
<span style="left:86.29px;top:426.89px;font-size:8.72px;line-height:8.72px;font-weight:bold;color:#111;transform:scaleX(0.9369);">Motor protection</span>
<span style="left:345.66px;top:427.68px;font-size:8.14px;line-height:8.14px;font-weight:normal;color:#222;transform:scaleX(1.0140);-webkit-text-stroke:0.12px #222">IP55</span>
<span style="left:86.30px;top:441.89px;font-size:8.72px;line-height:8.72px;font-weight:bold;color:#111;transform:scaleX(0.9192);">Motor frame size</span>
<span style="left:352.05px;top:442.68px;font-size:8.14px;line-height:8.14px;font-weight:normal;color:#222;transform:scaleX(1.1747);-webkit-text-stroke:0.12px #222">63</span>
<span style="left:90.71px;top:461.89px;font-size:8.72px;line-height:8.72px;font-weight:bold;color:#111;transform:scaleX(0.8902);">Data can change, please check motor plate</span>
<span style="left:397.47px;top:372.39px;font-size:16.72px;line-height:16.72px;font-weight:normal;color:#111;transform:scaleX(1.0210);">D</span>
<span style="left:427.50px;top:346.68px;font-size:8.14px;line-height:8.14px;font-weight:normal;color:#222;transform:scaleX(0.9428);">W2</span>
<span style="left:450.41px;top:346.68px;font-size:8.14px;line-height:8.14px;font-weight:normal;color:#222;transform:scaleX(0.9617);">U2</span>
<span style="left:471.80px;top:346.68px;font-size:8.14px;line-height:8.14px;font-weight:normal;color:#222;transform:scaleX(0.9557);">V2</span>
<span style="left:436.71px;top:388.68px;font-size:8.14px;line-height:8.14px;font-weight:normal;color:#222;transform:scaleX(0.9617);">U1</span>
<span style="left:462.00px;top:388.68px;font-size:8.14px;line-height:8.14px;font-weight:normal;color:#222;transform:scaleX(0.9557);">V1</span>
<span style="left:483.80px;top:388.68px;font-size:8.14px;line-height:8.14px;font-weight:normal;color:#222;transform:scaleX(0.9260);">W1</span>
<span style="left:424.66px;top:417.68px;font-size:8.14px;line-height:8.14px;font-weight:normal;color:#222;transform:scaleX(1.0138);">L1</span>
<span style="left:447.76px;top:417.68px;font-size:8.14px;line-height:8.14px;font-weight:normal;color:#222;transform:scaleX(1.0138);">L2</span>
<span style="left:472.56px;top:417.68px;font-size:8.14px;line-height:8.14px;font-weight:normal;color:#222;transform:scaleX(1.0138);">L3</span>
<span style="left:569.00px;top:346.68px;font-size:8.14px;line-height:8.14px;font-weight:normal;color:#222;transform:scaleX(0.9428);">W2</span>
<span style="left:592.11px;top:346.68px;font-size:8.14px;line-height:8.14px;font-weight:normal;color:#222;transform:scaleX(0.9617);">U2</span>
<span style="left:613.60px;top:346.68px;font-size:8.14px;line-height:8.14px;font-weight:normal;color:#222;transform:scaleX(0.9557);">V2</span>
<span style="left:578.51px;top:388.68px;font-size:8.14px;line-height:8.14px;font-weight:normal;color:#222;transform:scaleX(0.9617);">U1</span>
<span style="left:603.50px;top:388.68px;font-size:8.14px;line-height:8.14px;font-weight:normal;color:#222;transform:scaleX(0.9557);">V1</span>
<span style="left:625.90px;top:388.68px;font-size:8.14px;line-height:8.14px;font-weight:normal;color:#222;transform:scaleX(0.9260);">W1</span>
<span style="left:566.76px;top:418.68px;font-size:8.14px;line-height:8.14px;font-weight:normal;color:#222;transform:scaleX(1.0138);">L1</span>
<span style="left:589.76px;top:418.68px;font-size:8.14px;line-height:8.14px;font-weight:normal;color:#222;transform:scaleX(1.0138);">L2</span>
<span style="left:614.26px;top:418.68px;font-size:8.14px;line-height:8.14px;font-weight:normal;color:#222;transform:scaleX(1.0138);">L3</span>
<span style="left:101.66px;top:550.03px;font-size:8.43px;line-height:8.43px;font-weight:normal;color:#111;transform:scaleX(0.9000);-webkit-text-stroke:0.2px #111">INT</span>
<span style="left:133.33px;top:550.03px;font-size:8.43px;line-height:8.43px;font-weight:normal;color:#111;transform:scaleX(0.9000);-webkit-text-stroke:0.2px #111">VSD3/A-RFT</span>
<span style="left:195.29px;top:550.03px;font-size:8.43px;line-height:8.43px;font-weight:normal;color:#111;transform:scaleX(0.9000);-webkit-text-stroke:0.2px #111">AET</span>
<span style="left:242.77px;top:550.03px;font-size:8.43px;line-height:8.43px;font-weight:normal;color:#111;transform:scaleX(0.9000);-webkit-text-stroke:0.2px #111">RPA</span>
<span style="left:295.33px;top:550.03px;font-size:8.43px;line-height:8.43px;font-weight:normal;color:#111;transform:scaleX(0.9000);-webkit-text-stroke:0.2px #111">B</span>
<span style="left:339.31px;top:550.03px;font-size:8.43px;line-height:8.43px;font-weight:normal;color:#111;transform:scaleX(0.9000);-webkit-text-stroke:0.2px #111">BIC</span>
<span style="left:385.86px;top:550.03px;font-size:8.43px;line-height:8.43px;font-weight:normal;color:#111;transform:scaleX(0.9000);-webkit-text-stroke:0.2px #111">ACE</span>
<span style="left:425.80px;top:550.03px;font-size:8.43px;line-height:8.43px;font-weight:normal;color:#111;transform:scaleX(0.9000);-webkit-text-stroke:0.2px #111">CJACUS</span>
<span style="left:479.97px;top:550.03px;font-size:8.43px;line-height:8.43px;font-weight:normal;color:#111;transform:scaleX(0.9000);-webkit-text-stroke:0.2px #111">REG</span>
<span style="left:533.51px;top:550.03px;font-size:8.43px;line-height:8.43px;font-weight:normal;color:#111;transform:scaleX(0.9000);-webkit-text-stroke:0.2px #111">S</span>
<span style="left:138.34px;top:561.03px;font-size:8.43px;line-height:8.43px;font-weight:normal;color:#111;transform:scaleX(0.9000);-webkit-text-stroke:0.2px #111">- VSD1/A-</span>
<span style="left:378.41px;top:561.03px;font-size:8.43px;line-height:8.43px;font-weight:normal;color:#111;transform:scaleX(0.9000);-webkit-text-stroke:0.2px #111">ACE/400</span>
</body></html>
